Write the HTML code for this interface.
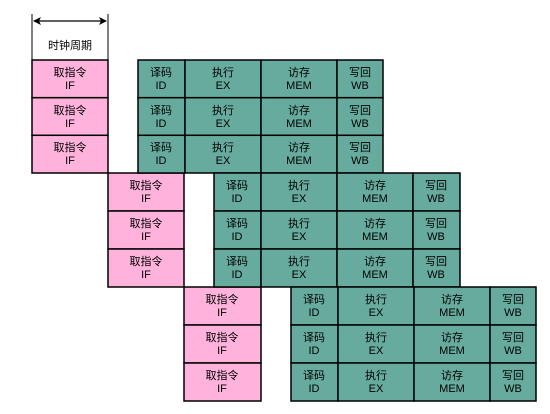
<!DOCTYPE html>
<html><head><meta charset="utf-8"><style>
html,body{margin:0;padding:0;background:#fff;width:550px;height:414px;overflow:hidden}
text{font-family:"Liberation Sans","Noto Sans CJK SC",sans-serif;font-size:11px;fill:#000;text-anchor:middle}
</style></head><body>
<svg width="550" height="414" xmlns="http://www.w3.org/2000/svg">
<defs>
<marker id="a" markerWidth="8" markerHeight="8" refX="7" refY="4" orient="auto-start-reverse" markerUnits="userSpaceOnUse"><path d="M0,0 L8,4 L0,8 L2,4 Z" fill="#000"/></marker>
</defs>
<line x1="32" y1="14" x2="32" y2="60" stroke="#000" stroke-width="1"/>
<line x1="108" y1="14" x2="108" y2="60" stroke="#000" stroke-width="1"/>
<line x1="34" y1="21" x2="106" y2="21" stroke="#000" stroke-width="1.2" marker-start="url(#a)" marker-end="url(#a)"/>
<text x="70" y="49">时钟周期</text>
<g stroke="#000" stroke-width="1.5">
<!-- group 1 -->
<g fill="#ffb3dc">
<rect x="32" y="60" width="76" height="37.7"/><rect x="32" y="97.7" width="76" height="37.7"/><rect x="32" y="135.3" width="76" height="37.7"/>
<rect x="108" y="173" width="76" height="38"/><rect x="108" y="211" width="76" height="38"/><rect x="108" y="249" width="76" height="38"/>
<rect x="184" y="287" width="77" height="38"/><rect x="184" y="325" width="77" height="38"/><rect x="184" y="363" width="77" height="38"/>
</g>
<g fill="#67ab9f">
<rect x="138" y="60" width="47" height="37.7"/><rect x="185" y="60" width="76" height="37.7"/><rect x="261" y="60" width="76" height="37.7"/><rect x="337" y="60" width="46" height="37.7"/>
<rect x="138" y="97.7" width="47" height="37.7"/><rect x="185" y="97.7" width="76" height="37.7"/><rect x="261" y="97.7" width="76" height="37.7"/><rect x="337" y="97.7" width="46" height="37.7"/>
<rect x="138" y="135.3" width="47" height="37.7"/><rect x="185" y="135.3" width="76" height="37.7"/><rect x="261" y="135.3" width="76" height="37.7"/><rect x="337" y="135.3" width="46" height="37.7"/>

<rect x="214" y="173" width="47" height="38"/><rect x="261" y="173" width="76" height="38"/><rect x="337" y="173" width="76" height="38"/><rect x="413" y="173" width="47" height="38"/>
<rect x="214" y="211" width="47" height="38"/><rect x="261" y="211" width="76" height="38"/><rect x="337" y="211" width="76" height="38"/><rect x="413" y="211" width="47" height="38"/>
<rect x="214" y="249" width="47" height="38"/><rect x="261" y="249" width="76" height="38"/><rect x="337" y="249" width="76" height="38"/><rect x="413" y="249" width="47" height="38"/>

<rect x="291" y="287" width="47" height="38"/><rect x="338" y="287" width="76" height="38"/><rect x="414" y="287" width="76" height="38"/><rect x="490" y="287" width="46" height="38"/>
<rect x="291" y="325" width="47" height="38"/><rect x="338" y="325" width="76" height="38"/><rect x="414" y="325" width="76" height="38"/><rect x="490" y="325" width="46" height="38"/>
<rect x="291" y="363" width="47" height="38"/><rect x="338" y="363" width="76" height="38"/><rect x="414" y="363" width="76" height="38"/><rect x="490" y="363" width="46" height="38"/>
</g>
</g>
<g>
<!-- labels: group1 rows at 60, 97.7, 135.3 -->
<text x="70" y="76">取指令</text><text x="70" y="89">IF</text>
<text x="70" y="114">取指令</text><text x="70" y="127">IF</text>
<text x="70" y="151">取指令</text><text x="70" y="164">IF</text>
<text x="146" y="189">取指令</text><text x="146" y="202">IF</text>
<text x="146" y="227">取指令</text><text x="146" y="240">IF</text>
<text x="146" y="265">取指令</text><text x="146" y="278">IF</text>
<text x="222" y="303">取指令</text><text x="222" y="316">IF</text>
<text x="222" y="341">取指令</text><text x="222" y="354">IF</text>
<text x="222" y="379">取指令</text><text x="222" y="392">IF</text>

<text x="161" y="76">译码</text><text x="161" y="89">ID</text><text x="223" y="76">执行</text><text x="223" y="89">EX</text><text x="299" y="76">访存</text><text x="299" y="89">MEM</text><text x="360" y="76">写回</text><text x="360" y="89">WB</text>
<text x="161" y="114">译码</text><text x="161" y="127">ID</text><text x="223" y="114">执行</text><text x="223" y="127">EX</text><text x="299" y="114">访存</text><text x="299" y="127">MEM</text><text x="360" y="114">写回</text><text x="360" y="127">WB</text>
<text x="161" y="151">译码</text><text x="161" y="164">ID</text><text x="223" y="151">执行</text><text x="223" y="164">EX</text><text x="299" y="151">访存</text><text x="299" y="164">MEM</text><text x="360" y="151">写回</text><text x="360" y="164">WB</text>

<text x="237" y="189">译码</text><text x="237" y="202">ID</text><text x="299" y="189">执行</text><text x="299" y="202">EX</text><text x="375" y="189">访存</text><text x="375" y="202">MEM</text><text x="436" y="189">写回</text><text x="436" y="202">WB</text>
<text x="237" y="227">译码</text><text x="237" y="240">ID</text><text x="299" y="227">执行</text><text x="299" y="240">EX</text><text x="375" y="227">访存</text><text x="375" y="240">MEM</text><text x="436" y="227">写回</text><text x="436" y="240">WB</text>
<text x="237" y="265">译码</text><text x="237" y="278">ID</text><text x="299" y="265">执行</text><text x="299" y="278">EX</text><text x="375" y="265">访存</text><text x="375" y="278">MEM</text><text x="436" y="265">写回</text><text x="436" y="278">WB</text>

<text x="314" y="303">译码</text><text x="314" y="316">ID</text><text x="376" y="303">执行</text><text x="376" y="316">EX</text><text x="452" y="303">访存</text><text x="452" y="316">MEM</text><text x="513" y="303">写回</text><text x="513" y="316">WB</text>
<text x="314" y="341">译码</text><text x="314" y="354">ID</text><text x="376" y="341">执行</text><text x="376" y="354">EX</text><text x="452" y="341">访存</text><text x="452" y="354">MEM</text><text x="513" y="341">写回</text><text x="513" y="354">WB</text>
<text x="314" y="379">译码</text><text x="314" y="392">ID</text><text x="376" y="379">执行</text><text x="376" y="392">EX</text><text x="452" y="379">访存</text><text x="452" y="392">MEM</text><text x="513" y="379">写回</text><text x="513" y="392">WB</text>
</g>
</svg>
</body></html>
